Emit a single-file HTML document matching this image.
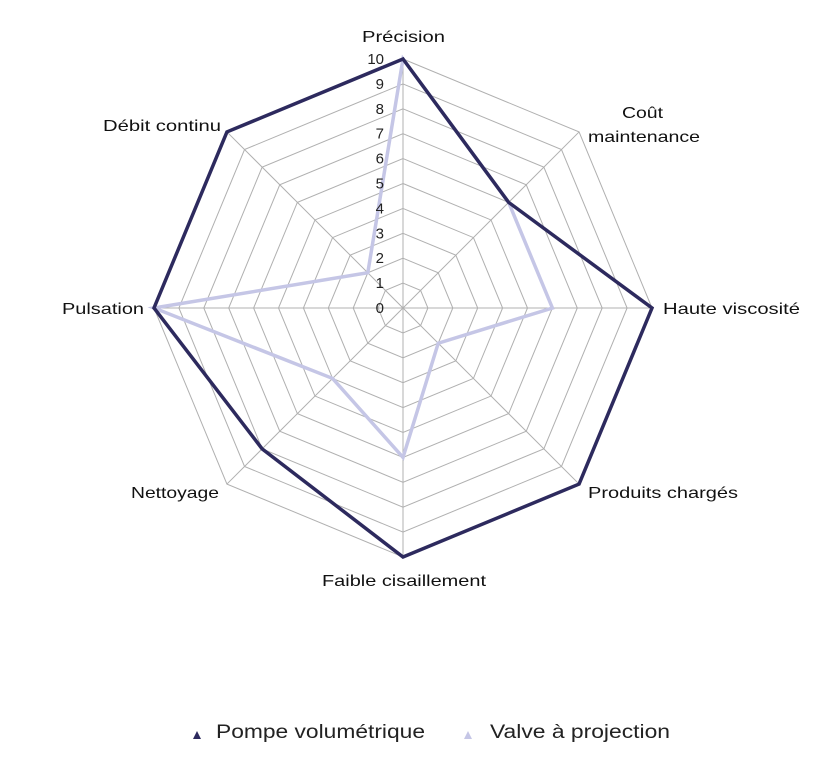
<!DOCTYPE html>
<html><head><meta charset="utf-8"><style>
body{margin:0;background:#fff;}
svg{display:block;font-family:"Liberation Sans",sans-serif;}
</style></head><body>
<svg width="832" height="770" viewBox="0 0 832 770" xmlns="http://www.w3.org/2000/svg">
<g id="grid" fill="none" stroke="#b0b0b0" stroke-width="1"></g>
<g id="series"></g>
<g font-size="15" fill="#222" text-anchor="end" id="ticks"></g>
<g font-size="16" fill="#111" lengthAdjust="spacingAndGlyphs">
<text x="362" y="42" textLength="83" lengthAdjust="spacingAndGlyphs">Précision</text>
<text x="622" y="118" textLength="41" lengthAdjust="spacingAndGlyphs">Coût</text>
<text x="588" y="142" textLength="112" lengthAdjust="spacingAndGlyphs">maintenance</text>
<text x="663" y="314" textLength="137" lengthAdjust="spacingAndGlyphs">Haute viscosité</text>
<text x="588" y="498" textLength="150" lengthAdjust="spacingAndGlyphs">Produits chargés</text>
<text x="322" y="586" textLength="164" lengthAdjust="spacingAndGlyphs">Faible cisaillement</text>
<text x="131" y="498" textLength="88" lengthAdjust="spacingAndGlyphs">Nettoyage</text>
<text x="62" y="314" textLength="82" lengthAdjust="spacingAndGlyphs">Pulsation</text>
<text x="103" y="131" textLength="118" lengthAdjust="spacingAndGlyphs">Débit continu</text>
</g>
<g font-size="19" fill="#222">
<polygon points="193,739 201,739 197,731" fill="#2d2a5e"/>
<text x="216" y="738" textLength="209" lengthAdjust="spacingAndGlyphs">Pompe volumétrique</text>
<polygon points="464,739 472,739 468,731" fill="#c5c6e6"/>
<text x="490" y="738" textLength="180" lengthAdjust="spacingAndGlyphs">Valve à projection</text>
</g>
<script>
const cx=403,cy=308,R=249,ns="http://www.w3.org/2000/svg";
function pt(i,v){const a=-Math.PI/2+i*Math.PI/4;return [cx+Math.cos(a)*R*v/10,cy+Math.sin(a)*R*v/10];}
const g=document.getElementById('grid');
for(let k=1;k<=10;k++){const p=document.createElementNS(ns,'polygon');
p.setAttribute('points',[0,1,2,3,4,5,6,7].map(i=>pt(i,k).join(',')).join(' '));g.appendChild(p);}
for(let i=0;i<8;i++){const l=document.createElementNS(ns,'line');const e=pt(i,10);
l.setAttribute('x1',cx);l.setAttribute('y1',cy);l.setAttribute('x2',e[0]);l.setAttribute('y2',e[1]);g.appendChild(l);}
const s=document.getElementById('series');
function poly(vals,col,w){const p=document.createElementNS(ns,'polygon');
p.setAttribute('points',vals.map((v,i)=>pt(i,v).join(',')).join(' '));
p.setAttribute('fill','none');p.setAttribute('stroke',col);p.setAttribute('stroke-width',w);p.setAttribute('stroke-linejoin','miter');s.appendChild(p);}
poly([10,6,6,2,6,4,10,2],'#c5c6e6',3.5);
poly([10,6,10,10,10,8,10,10],'#2d2a5e',3.5);
const t=document.getElementById('ticks');
for(let k=0;k<=10;k++){const x=document.createElementNS(ns,'text');x.setAttribute('x',384);x.setAttribute('y',cy-k*24.9+5);x.textContent=k;t.appendChild(x);}
</script>
</svg>
</body></html>
